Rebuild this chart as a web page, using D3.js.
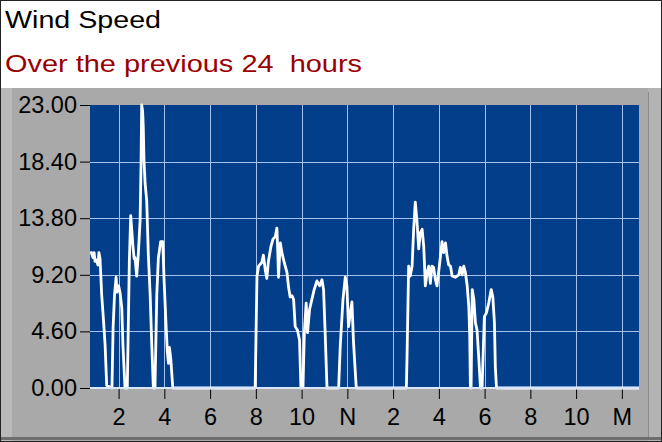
<!DOCTYPE html>
<html>
<head>
<meta charset="utf-8">
<script src="https://cdn.jsdelivr.net/npm/d3@7"></script>
<style>
  body { margin: 0; background: #fff; }
  svg { display: block; font-family: "Liberation Sans", Arial, sans-serif; }
</style>
</head>
<body>
<div id="chart"></div>
<script>
// hour of day (0.75 = 00:45, 24.75 = next day 00:45) and wind speed readings
const hours = [
  0.79, 0.88, 0.93, 0.97, 1.03, 1.10, 1.14, 1.19, 1.26, 1.34, 1.41, 1.48, 1.71,
  1.76, 1.82, 1.89, 1.93, 2.00, 2.06, 2.14, 2.19, 2.28, 2.38,
  2.47, 2.53, 2.59, 2.62, 2.68, 2.72, 2.79, 2.86, 2.94, 2.98, 3.01, 3.05, 3.08, 3.11,
  3.16, 3.23, 3.30, 3.38, 3.45, 3.52, 3.59,
  3.67, 3.74, 3.84, 3.93, 3.99, 4.08, 4.13, 4.18, 4.22, 4.28, 4.37,
  7.97, 8.05, 8.12, 8.26, 8.33, 8.41, 8.48, 8.55, 8.66, 8.75, 8.85, 8.92, 8.96, 8.99,
  9.07, 9.14, 9.24, 9.36, 9.43, 9.50, 9.58, 9.65, 9.72, 9.82, 9.91, 9.97, 10.06,
  10.12, 10.20, 10.26, 10.35, 10.45, 10.55, 10.67, 10.79, 10.89, 10.96, 11.03, 11.11,
  11.62, 11.69, 11.81, 11.91, 11.98, 12.05, 12.13, 12.20, 12.27, 12.39,
  14.58, 14.61, 14.68, 14.75, 14.83, 14.90, 14.97, 15.05, 15.12, 15.19, 15.27, 15.34,
  15.41, 15.49, 15.56, 15.63, 15.70, 15.77, 15.85, 15.92, 15.99, 16.07, 16.14, 16.21,
  16.29, 16.36, 16.43, 16.51, 16.58, 16.72, 16.87, 16.94, 17.02, 17.09, 17.16, 17.24,
  17.31, 17.35, 17.38, 17.41, 17.46, 17.53, 17.60, 17.67, 17.74, 17.82, 17.89,
  17.99, 18.08, 18.18, 18.29, 18.36, 18.43, 18.47, 18.52, 24.75
];
const speeds = [
  11.1, 10.6, 11.0, 10.3, 10.4, 10.0, 11.0, 10.5, 7.6, 5.5, 3.5, 0.2, 0,
  4.9, 7.5, 9.0, 7.8, 8.3, 7.8, 6.5, 3.5, 0, 0,
  10.3, 14.0, 12.5, 11.7, 10.5, 10.6, 9.1, 10.8, 13.6, 18.0, 23.0, 22.5, 21.2, 18.5,
  16.6, 15.2, 10.8, 7.6, 3.5, 0, 0,
  7.6, 10.6, 11.9, 11.9, 8.7, 4.9, 3.0, 2.0, 3.3, 2.4, 0,
  0, 9.1, 9.9, 10.2, 10.8, 9.6, 8.9, 10.3, 11.5, 12.1, 12.3, 13.0, 11.0, 9.0,
  11.8, 11.0, 10.2, 9.4, 8.2, 7.4, 7.5, 7.2, 5.0, 4.7, 3.9, 0, 0,
  4.5, 6.9, 4.5, 6.4, 7.2, 8.0, 8.7, 8.3, 8.8, 8.0, 4.5, 0,
  0, 3.4, 7.2, 9.0, 8.3, 5.0, 6.1, 7.0, 3.7, 0,
  0, 2.6, 9.9, 9.1, 9.9, 12.9, 15.1, 13.4, 11.3, 12.6, 12.9, 11.5,
  8.3, 9.4, 9.9, 8.5, 9.9, 9.8, 8.8, 8.3, 9.4, 10.7, 11.9, 11.0,
  11.8, 10.7, 10.0, 9.9, 9.1, 9.0, 9.2, 9.8, 9.2, 9.9, 9.4, 8.3,
  6.6, 4.2, 0, 0, 8.0, 7.2, 5.3, 4.7, 2.6, 0, 0,
  5.8, 6.1, 6.9, 8.0, 7.4, 5.3, 1.7, 0, 0
];
const xTicks = [2, 4, 6, 8, 10, 12, 14, 16, 18, 20, 22, 24];
const xTickLabels = ["2", "4", "6", "8", "10", "N", "2", "4", "6", "8", "10", "M"];
const yTicks = [0, 4.6, 9.2, 13.8, 18.4, 23];

const W = 662, H = 442;
const plot = {left: 90, right: 639, top: 105, bottom: 388};

const svg = d3.select("#chart").append("svg")
    .attr("width", W)
    .attr("height", H);

// header
svg.append("rect").attr("x", 0).attr("y", 0).attr("width", W).attr("height", H).attr("fill", "#fff");
svg.append("text")
    .attr("x", 5).attr("y", 28)
    .style("font-size", "23px")
    .attr("fill", "#000")
    .attr("textLength", 156)
    .attr("lengthAdjust", "spacingAndGlyphs")
    .text("Wind Speed");
svg.append("text")
    .attr("x", 5).attr("y", 72)
    .style("font-size", "24px")
    .attr("fill", "#9a0000")
    .attr("textLength", 357)
    .attr("lengthAdjust", "spacingAndGlyphs")
    .style("white-space", "pre")
    .text("Over the previous 24  hours");

// grey panel with a bevel
svg.append("rect").attr("x", 1).attr("y", 88).attr("width", W - 2).attr("height", H - 89).attr("fill", "#a9a9a9");
svg.append("rect").attr("x", 1).attr("y", 88).attr("width", 11).attr("height", H - 89).attr("fill", "#b9b9b9");
svg.append("rect").attr("x", 648).attr("y", 88).attr("width", 13).attr("height", H - 89).attr("fill", "#b3b3b3");
svg.append("line").attr("x1", 648.5).attr("x2", 648.5).attr("y1", 92).attr("y2", 438).attr("stroke", "#8a8a8a");
svg.append("rect").attr("x", 1).attr("y", 437).attr("width", W - 2).attr("height", 3).attr("fill", "#6e6e6e");

// outer border
svg.append("rect")
    .attr("x", 0.5).attr("y", 0.5).attr("width", W - 1).attr("height", H - 1)
    .attr("fill", "none").attr("stroke", "#222");

const x = d3.scaleLinear().domain([0.75, 24.75]).range([plot.left, plot.right]);
const y = d3.scaleLinear().domain([0, 23]).range([plot.bottom, plot.top]);

// plot background
svg.append("rect")
    .attr("x", plot.left).attr("y", plot.top)
    .attr("width", plot.right - plot.left).attr("height", plot.bottom - plot.top)
    .attr("fill", "#033e8b");

// grid
svg.append("g").selectAll("line")
    .data(xTicks.filter(d => x(d) < plot.right))
    .join("line")
    .attr("x1", d => Math.round(x(d)) + 0.5).attr("x2", d => Math.round(x(d)) + 0.5)
    .attr("y1", plot.top).attr("y2", plot.bottom)
    .attr("stroke", "#a6c1ee").attr("stroke-width", 1);
svg.append("g").selectAll("line")
    .data(yTicks.slice(1, -1))
    .join("line")
    .attr("x1", plot.left).attr("x2", plot.right)
    .attr("y1", d => Math.round(y(d)) + 0.5).attr("y2", d => Math.round(y(d)) + 0.5)
    .attr("stroke", "#a6c1ee").attr("stroke-width", 1);

// axes
const yAxis = svg.append("g")
    .attr("transform", `translate(${plot.left},0)`)
    .call(d3.axisLeft(y).tickValues(yTicks).tickFormat(d3.format(".2f")).tickSize(10).tickPadding(3));
const xAxis = svg.append("g")
    .attr("transform", `translate(0,${plot.bottom})`)
    .call(d3.axisBottom(x).tickValues(xTicks).tickFormat((d, i) => xTickLabels[i]).tickSize(11).tickPadding(9));
[yAxis, xAxis].forEach(g => {
    g.select(".domain").remove();
    g.selectAll(".tick line").attr("stroke", "#000");
    g.selectAll(".tick text")
        .attr("fill", "#000")
        .style("font-size", "23.5px")
        .style("font-family", "'Liberation Sans', Arial, sans-serif");
});

// data line
const line = d3.line()
    .x((d, i) => x(hours[i]))
    .y(d => y(d));

svg.append("path")
    .datum(speeds)
    .attr("d", line)
    .attr("fill", "none")
    .attr("stroke", "#fff")
    .attr("stroke-width", 2.8)
    .attr("stroke-linejoin", "round");

// light base line along zero
svg.append("line")
    .attr("x1", plot.left).attr("x2", plot.right)
    .attr("y1", plot.bottom).attr("y2", plot.bottom)
    .attr("stroke", "#d8e6ff").attr("stroke-width", 2);
</script>
</body>
</html>
